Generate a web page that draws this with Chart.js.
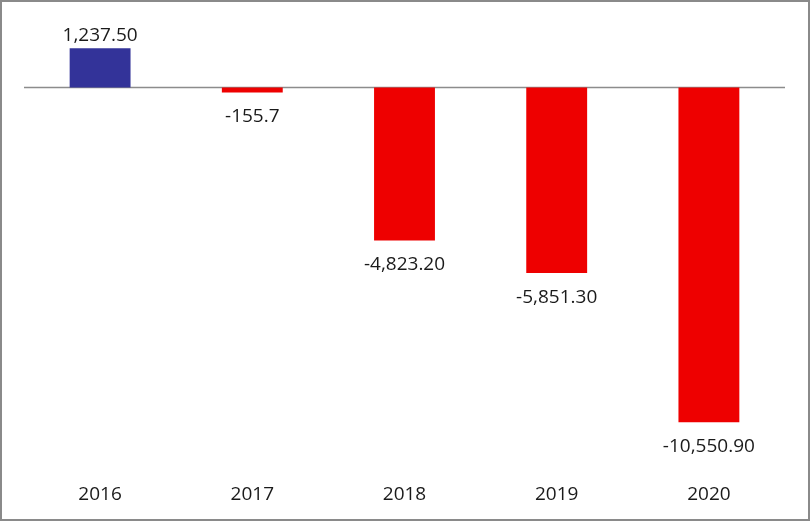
<!DOCTYPE html>
<html>
<head>
<meta charset="utf-8">
<script src="https://cdn.jsdelivr.net/npm/chart.js@4"></script>
<style>
  html, body { margin: 0; padding: 0; background: #fff; }
  #box { width: 810px; height: 521px; box-sizing: border-box; border: 2px solid #8a8a8a; background: #fff; }
  #box canvas { display: block; }
</style>
</head>
<body>
<div id="box"><canvas id="mycanvas" width="806" height="517"></canvas></div>
<script>
// data
var years = ['2016', '2017', '2018', '2019', '2020'];
var values = [1237.5, -155.7, -4823.2, -5851.3, -10550.9];
var labels = ['1,237.50', '-155.7', '-4,823.20', '-5,851.30', '-10,550.90'];

var FONT = '"Open Sans", "DejaVu Sans", sans-serif';

// zero line drawn under the bars
var zeroLine = {
  id: 'zeroLine',
  beforeDatasetsDraw: function(chart) {
    var ctx = chart.ctx, area = chart.chartArea;
    var y = chart.scales.y.getPixelForValue(0);
    ctx.save();
    ctx.strokeStyle = '#8c8c8c';
    ctx.lineWidth = 1.5;
    ctx.beginPath();
    ctx.moveTo(area.left, y);
    ctx.lineTo(area.right, y);
    ctx.stroke();
    ctx.restore();
  }
};

// value labels, above positive bars and below negative ones
var valueLabels = {
  id: 'valueLabels',
  afterDatasetsDraw: function(chart) {
    var ctx = chart.ctx;
    var meta = chart.getDatasetMeta(0);
    ctx.save();
    ctx.font = '19px ' + FONT;
    ctx.fillStyle = '#1a1a1a';
    ctx.textAlign = 'center';
    ctx.textBaseline = 'middle';
    meta.data.forEach(function(bar, i) {
      var y = values[i] >= 0 ? bar.y - 13 : bar.y + 24;
      ctx.fillText(labels[i], bar.x, y);
    });
    ctx.restore();
  }
};

new Chart(document.getElementById('mycanvas'), {
  type: 'bar',
  data: {
    labels: years,
    datasets: [{
      data: values,
      backgroundColor: values.map(function(v) { return v >= 0 ? '#333399' : '#ee0000'; }),
      borderWidth: 0,
      barPercentage: 0.4,
      categoryPercentage: 1
    }]
  },
  options: {
    responsive: false,
    animation: false,
    devicePixelRatio: 1,
    layout: { padding: { left: 22, right: 23, top: 22, bottom: -2 } },
    plugins: { legend: { display: false }, tooltip: { enabled: false } },
    scales: {
      x: {
        grid: { display: false, drawTicks: false },
        border: { display: false },
        ticks: { color: '#1a1a1a', padding: 15, font: { family: FONT, size: 19 } }
      },
      y: {
        display: false,
        min: -12000,
        max: 2000
      }
    }
  },
  plugins: [zeroLine, valueLabels]
});
</script>
</body>
</html>
